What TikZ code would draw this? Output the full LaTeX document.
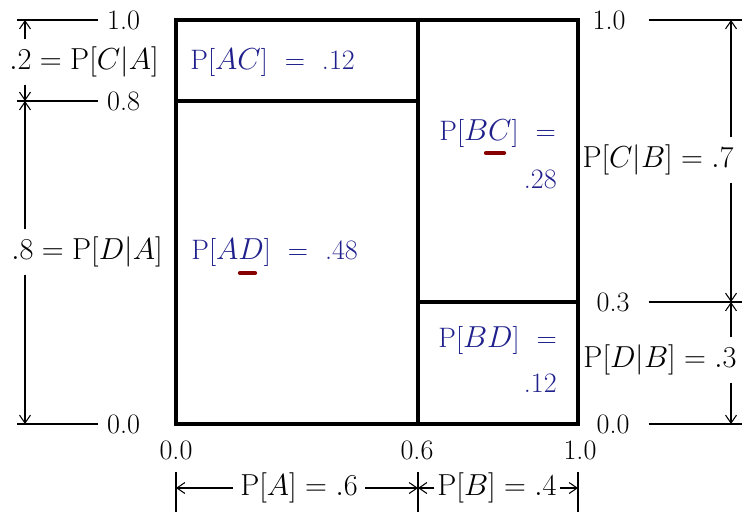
\documentclass[tikz,border=0pt]{standalone}
\usetikzlibrary{arrows.meta}
\definecolor{probblue}{RGB}{32,32,140}
\definecolor{squigred}{RGB}{135,0,0}

\begin{document}
\begin{tikzpicture}[x=0.02cm,y=-0.02cm,
    font=\fontsize{16}{19}\selectfont,
    box/.style={line width=2.3pt},
    tick/.style={line width=0.6pt},
    dim/.style={line width=0.6pt,-{Straight Barb[length=1.6mm,width=2.2mm]}},
    scl/.style={inner xsep=5pt,inner ysep=2pt},
    lab/.style={inner sep=4pt},
    val/.style={text=probblue,inner sep=0pt},
    squig/.style={line width=2.4pt,line cap=round,squigred}]
    \useasboundingbox (0,0) rectangle (742,514);
    % Unit square split into A/B and C/D
    \draw[box] (176,20) rectangle (578,424);
    \draw[box] (418,20) -- (418,424);
    \draw[box] (176,101) -- (418,101);
    \draw[box] (418,302) -- (578,302);
    % Joint probabilities
    \node[val,anchor=west] (ac) at (190,62)  {P[$AC$]\ \ =\ \ .12};
    \node[val,anchor=west] (ad) at (191,252) {P[$AD$]\ \ =\ \ .48};
    \node[val,anchor=west] (bc) at (439,133) {P[$BC$]\ \ =};
    \node[val,anchor=east] (bc2) at (557,179) {.28};
    \node[val,anchor=west] (bd) at (438,340) {P[$BD$]\ \ =};
    \node[val,anchor=east] (bd2) at (557,383) {.12};
    \draw[squig] (240,273) -- (255,273);
    \draw[squig] (486,153) -- (504,153);
    % Left scale
    \coordinate (lt) at (25,20);
    \coordinate (lm) at (25,101);
    \coordinate (lb) at (25,424);
    \node[scl,anchor=west] (l10) at (98,20)  {1.0};
    \node[scl,anchor=west] (l08) at (98,101) {0.8};
    \node[scl,anchor=west] (l00) at (98,424) {0.0};
    \draw[tick] (l10.west) -- (lt) -- +(-8,0);
    \draw[tick] (l08.west) -- (lm) -- +(-8,0);
    \draw[tick] (l00.west) -- (lb) -- +(-8,0);
    \node[lab] (ca) at (84,62)  {$.2 = \mathrm{P}[C|A]$};
    \node[lab] (da) at (87,252) {$.8 = \mathrm{P}[D|A]$};
    \draw[dim] (ca.north -| lt) -- (lt);
    \draw[dim] (ca.south -| lt) -- (lm);
    \draw[dim] (da.north -| lt) -- (lm);
    \draw[dim] (da.south -| lt) -- (lb);
    % Right scale
    \coordinate (rt) at (731,20);
    \coordinate (rm) at (731,302);
    \coordinate (rb) at (731,424);
    \node[scl] (r10) at (609,20)  {1.0};
    \node[scl] (r03) at (613,302) {0.3};
    \node[scl] (r00) at (613,424) {0.0};
    \draw[tick] (r10.east) ++(14,0) -- (742,20);
    \draw[tick] (r03.east) ++(10,0) -- (742,302);
    \draw[tick] (r00.east) ++(10,0) -- (742,424);
    \node[lab,anchor=east] (cb) at (741,160) {$\mathrm{P}[C|B] = .7$};
    \node[lab,anchor=east] (db) at (744,360) {$\mathrm{P}[D|B] = .3$};
    \draw[dim] (cb.north -| rt) -- (rt);
    \draw[dim] (cb.south -| rt) -- (rm);
    \draw[dim] (db.north -| rt) -- (rm);
    \draw[dim] (db.south -| rt) -- (rb);
    % Bottom scale
    \coordinate (b0) at (176,488);
    \coordinate (b6) at (418,488);
    \coordinate (b1) at (578,488);
    \node[scl] (x00) at (176,450) {0.0};
    \node[scl] (x06) at (417,450) {0.6};
    \node[scl] (x10) at (580,450) {1.0};
    \draw[tick] (b0) ++(0,-16) -- ++(0,40);
    \draw[tick] (b6) ++(0,-16) -- ++(0,40);
    \draw[tick] (b1) ++(0,-16) -- ++(0,40);
    \node[lab] (pa) at (299,488) {$\mathrm{P}[A] = .6$};
    \node[lab,inner xsep=1.5pt] (pb) at (497,488) {$\mathrm{P}[B] = .4$};
    \draw[dim] (pa.west) -- (b0);
    \draw[dim] (pa.east) -- (b6);
    \draw[dim] (pb.west) -- (b6);
    \draw[dim] (pb.east) -- (b1);
\end{tikzpicture}
\end{document}
